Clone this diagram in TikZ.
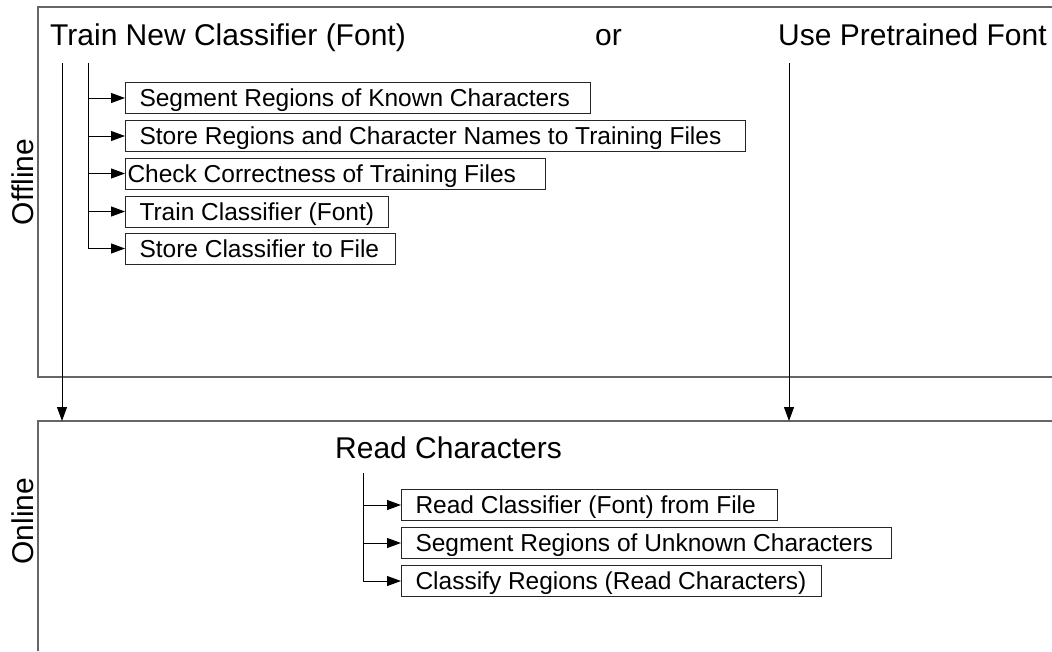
\documentclass[tikz,border=0pt]{standalone}
\usepackage{fontspec}
\setmainfont{Liberation Sans}
\usetikzlibrary{arrows.meta}
\tikzset{
  phase_frame/.style = {draw=black!60, line width=1.2pt},% cadre offline / online
  phase_label/.style = {rotate=90, anchor=base, inner sep=0pt,
    font=\fontsize{30}{36}\selectfont},
  title_node/.style = {anchor=base west, inner sep=0pt,
    font=\fontsize{30}{36}\selectfont},
  step_box/.style = {draw=black!85, line width=1pt, anchor=west,
    inner xsep=14pt, inner ysep=0pt, minimum height=31pt,
    text height=17.5pt, text depth=0pt,
    font=\fontsize{24.5}{29}\selectfont},% etape
  link/.style = {draw=black, line width=1pt,
    -{Triangle[length=14pt,width=10pt]}}
}
\newcommand{\steptext}[2]{\makebox[#1][l]{#2}}

\begin{document}
\begin{tikzpicture}[x=1pt, y=-1pt]
    \useasboundingbox (0,0) rectangle (1052,651);
    % cadres
    \draw[phase_frame] (1052,7) -- (38,7) -- (38,377) -- (1052,377);
    \draw[phase_frame] (1052,421) -- (38,421) -- (38,651);
    \coordinate (onlineTop) at (38,421);
    \node [phase_label] (offlineLabel) at (33,182) {Offline};
    \node [phase_label] (onlineLabel) at (33,521) {Online};
    % offline
    \node [title_node] (trainTitle) at (50,45) {Train New Classifier (Font)};
    \node [title_node] (orLabel) at (595,45) {or};
    \node [title_node] (pretrainedTitle) at (778,45) {Use Pretrained Font};
    \node [step_box] (segKnown) at (125,98)
      {\steptext{437pt}{Segment Regions of Known Characters}};
    \node [step_box] (storeRegions) at (125,136)
      {\steptext{592pt}{Store Regions and Character Names to Training Files}};
    \node [step_box, inner xsep=2pt] (checkFiles) at (125,173.5)
      {\steptext{416pt}{Check Correctness of Training Files}};
    \node [step_box] (trainClf) at (125,211.5)
      {\steptext{235pt}{Train Classifier (Font)}};
    \node [step_box] (storeClf) at (125,248.5)
      {\steptext{242pt}{Store Classifier to File}};
    \coordinate (trainDrop) at (62,63);
    \coordinate (trainSteps) at (88,63);
    \coordinate (pretrainedDrop) at (789,63);
    \draw[link] (trainDrop) -- (trainDrop |- onlineTop);
    \draw[link] (pretrainedDrop) -- (pretrainedDrop |- onlineTop);
    \foreach \s in {segKnown, storeRegions, checkFiles, trainClf, storeClf}
      \draw[link] (trainSteps) |- (\s.west);
    % online
    \node [title_node] (readTitle) at (335,458) {Read Characters};
    \node [step_box] (readClf) at (401,505)
      {\steptext{348pt}{Read Classifier (Font) from File}};
    \node [step_box] (segUnknown) at (401,543)
      {\steptext{462pt}{Segment Regions of Unknown Characters}};
    \node [step_box] (classify) at (401,581)
      {\steptext{392pt}{Classify Regions (Read Characters)}};
    \coordinate (readSteps) at (363,473);
    \foreach \s in {readClf, segUnknown, classify}
      \draw[link] (readSteps) |- (\s.west);
\end{tikzpicture}
\end{document}
